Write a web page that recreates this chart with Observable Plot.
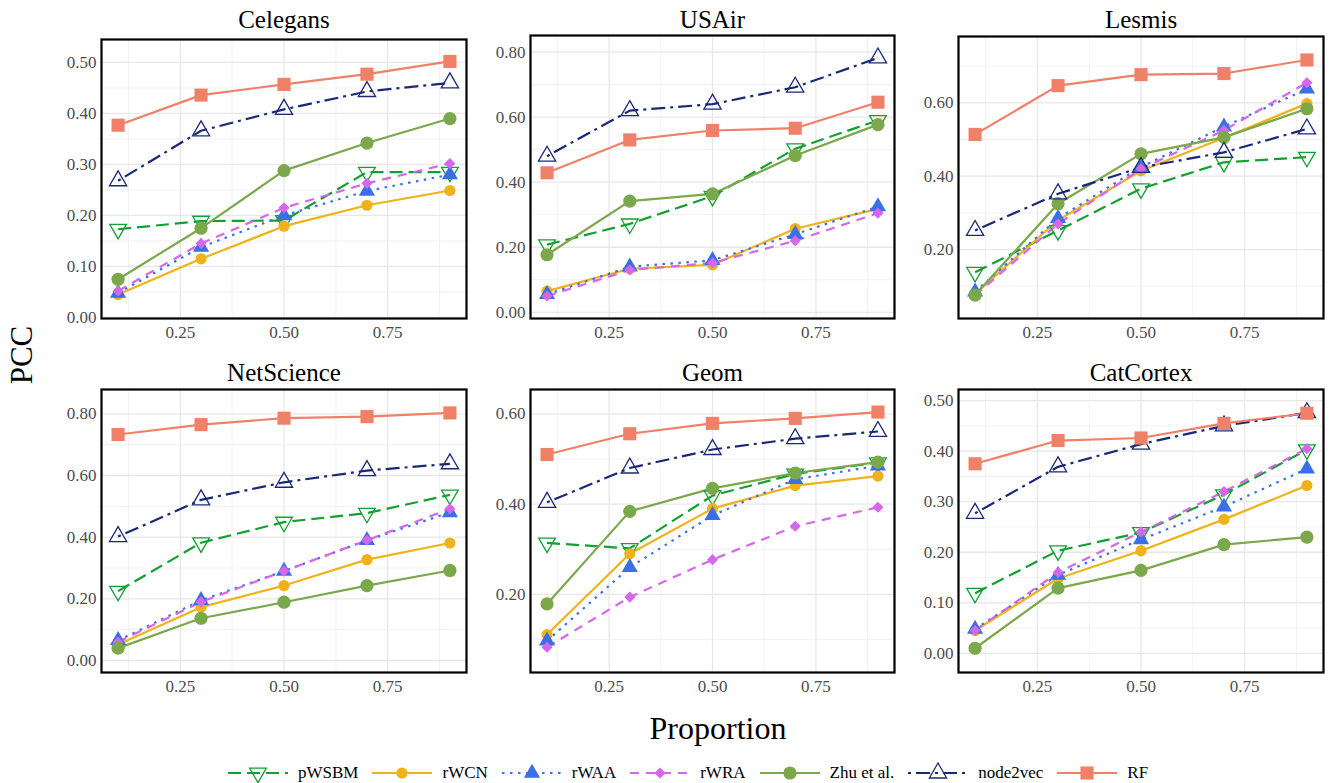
<!DOCTYPE html>
<html>
<head>
<meta charset="utf-8">
<script src="https://cdn.jsdelivr.net/npm/d3@7"></script>
<script src="https://cdn.jsdelivr.net/npm/@observablehq/plot@0.6"></script>
<style>
  body { margin: 0; background: white; }
  #root { position: relative; width: 1331px; height: 783px; background: white; overflow: hidden; font-family: "Liberation Serif", "Times New Roman", serif; }
  #root svg, #root svg text, #root svg g { font-family: "Liberation Serif", "Times New Roman", serif !important; }
  .panel { position: absolute; }
  #ylab { position: absolute; left: 22px; top: 355px; transform: translate(-50%, -50%) rotate(-90deg); font-size: 31px; color: black; white-space: nowrap; }
  #xlab { position: absolute; left: 718px; top: 728px; transform: translate(-50%, -50%); font-size: 32px; color: black; white-space: nowrap; }
  #legend { position: absolute; left: 228px; top: 761px; height: 24px; display: flex; align-items: center; font-size: 17px; color: black; white-space: nowrap; }
  #legend .lab { margin-left: 10px; margin-right: 14px; }
  #legend svg { display: block; }
</style>
</head>
<body>
<div id="root">
  <div id="ylab">PCC</div>
  <div id="xlab">Proportion</div>
  <div id="legend"></div>
</div>
<script>
// ---------------- data ----------------
const proportion = [0.1, 0.3, 0.5, 0.7, 0.9];
const methods = ["pWSBM", "rWCN", "rWAA", "rWRA", "Zhu et al.", "node2vec", "RF"];
const datasets = ["Celegans", "USAir", "Lesmis", "NetScience", "Geom", "CatCortex"];

const celegans = {
  "pWSBM":      [0.173, 0.189, 0.190, 0.285, 0.285],
  "rWCN":       [0.045, 0.115, 0.179, 0.220, 0.249],
  "rWAA":       [0.048, 0.138, 0.200, 0.248, 0.280],
  "rWRA":       [0.052, 0.145, 0.215, 0.263, 0.302],
  "Zhu et al.": [0.075, 0.175, 0.288, 0.342, 0.390],
  "node2vec":   [0.268, 0.366, 0.408, 0.443, 0.460],
  "RF":         [0.377, 0.436, 0.457, 0.477, 0.502]
};
const usair = {
  "pWSBM":      [0.208, 0.272, 0.357, 0.503, 0.590],
  "rWCN":       [0.065, 0.134, 0.146, 0.257, 0.318],
  "rWAA":       [0.055, 0.140, 0.160, 0.240, 0.325],
  "rWRA":       [0.050, 0.130, 0.152, 0.220, 0.305],
  "Zhu et al.": [0.177, 0.342, 0.364, 0.482, 0.577],
  "node2vec":   [0.480, 0.620, 0.640, 0.692, 0.782],
  "RF":         [0.429, 0.530, 0.559, 0.566, 0.646]
};
const lesmis = {
  "pWSBM":      [0.138, 0.252, 0.366, 0.438, 0.452],
  "rWCN":       [0.080, 0.280, 0.415, 0.505, 0.598],
  "rWAA":       [0.085, 0.285, 0.425, 0.535, 0.638],
  "rWRA":       [0.075, 0.270, 0.420, 0.525, 0.655],
  "Zhu et al.": [0.076, 0.325, 0.461, 0.506, 0.584],
  "node2vec":   [0.252, 0.352, 0.424, 0.465, 0.529],
  "RF":         [0.514, 0.647, 0.677, 0.680, 0.717]
};
const netscience = {
  "pWSBM":      [0.225, 0.382, 0.449, 0.478, 0.537],
  "rWCN":       [0.052, 0.173, 0.243, 0.327, 0.381],
  "rWAA":       [0.065, 0.195, 0.290, 0.390, 0.480],
  "rWRA":       [0.060, 0.190, 0.290, 0.390, 0.492],
  "Zhu et al.": [0.040, 0.137, 0.189, 0.243, 0.292],
  "node2vec":   [0.402, 0.521, 0.578, 0.616, 0.638],
  "RF":         [0.733, 0.765, 0.786, 0.791, 0.803]
};
const geom = {
  "pWSBM":      [0.314, 0.302, 0.419, 0.467, 0.492],
  "rWCN":       [0.111, 0.290, 0.390, 0.441, 0.462],
  "rWAA":       [0.097, 0.260, 0.375, 0.455, 0.485],
  "rWRA":       [0.083, 0.194, 0.277, 0.351, 0.393],
  "Zhu et al.": [0.179, 0.384, 0.435, 0.469, 0.493],
  "node2vec":   [0.404, 0.480, 0.521, 0.545, 0.561],
  "RF":         [0.510, 0.556, 0.579, 0.590, 0.604]
};
const catcortex = {
  "pWSBM":      [0.119, 0.203, 0.239, 0.314, 0.403],
  "rWCN":       [0.045, 0.148, 0.203, 0.265, 0.332],
  "rWAA":       [0.048, 0.155, 0.225, 0.290, 0.365],
  "rWRA":       [0.045, 0.160, 0.240, 0.320, 0.405],
  "Zhu et al.": [0.010, 0.129, 0.164, 0.215, 0.230],
  "node2vec":   [0.277, 0.369, 0.414, 0.450, 0.476],
  "RF":         [0.375, 0.421, 0.426, 0.455, 0.475]
};

const xTicks = [0.25, 0.50, 0.75];
const xMinor = [0.125, 0.375, 0.625, 0.875];
const yTicksCelegans = [0.0, 0.1, 0.2, 0.3, 0.4, 0.5];
const yTicksUSAir = [0.0, 0.2, 0.4, 0.6, 0.8];
const yTicksLesmis = [0.2, 0.4, 0.6];
const yTicksNetScience = [0.0, 0.2, 0.4, 0.6, 0.8];
const yTicksGeom = [0.2, 0.4, 0.6];
const yTicksCatCortex = [0.0, 0.1, 0.2, 0.3, 0.4, 0.5];

// ---------------- styles ----------------
const downTriangle = {
  draw(context, size) {
    const s3 = Math.sqrt(3);
    const y = Math.sqrt(size / (s3 * 3));
    context.moveTo(0, y * 2);
    context.lineTo(-s3 * y, -y);
    context.lineTo(s3 * y, -y);
    context.closePath();
  }
};
const style = {
  "pWSBM":      {color: "#12a032", dash: "13,6",        symbol: downTriangle,   r: 6.2, hollow: true},
  "rWCN":       {color: "#f0b21a", dash: null,          symbol: "circle",       r: 5.6},
  "rWAA":       {color: "#3a6fe8", dash: "2.5,5.5",     symbol: "triangle",     r: 6.0},
  "rWRA":       {color: "#d666ea", dash: "9,7",         symbol: "diamond2",     r: 5.0},
  "Zhu et al.": {color: "#7ba84a", dash: null,          symbol: "circle",       r: 6.6},
  "node2vec":   {color: "#1a2878", dash: "3,5,14,5",    symbol: "triangle",     r: 6.4, hollow: true},
  "RF":         {color: "#f08068", dash: null,          symbol: "square",       r: 7.4}
};

// ---------------- layout ----------------
const ml = 70, mr = 8, mt = 45, mb = 35;
const panels = [
  {title: "Celegans",   data: celegans,   yDomain: [-0.002, 0.545], yTicks: yTicksCelegans,   box: {l: 101, t: 39, r: 466, b: 318}, titleBase: 27.3},
  {title: "USAir",      data: usair,      yDomain: [-0.019, 0.851], yTicks: yTicksUSAir,      box: {l: 530, t: 35, r: 894, b: 318}, titleBase: 27.3},
  {title: "Lesmis",     data: lesmis,     yDomain: [0.012, 0.781],  yTicks: yTicksLesmis,     box: {l: 958, t: 36, r: 1323, b: 318}, titleBase: 27.3},
  {title: "NetScience", data: netscience, yDomain: [-0.039, 0.879], yTicks: yTicksNetScience, box: {l: 101, t: 389, r: 466, b: 672}, titleBase: 380.7},
  {title: "Geom",       data: geom,       yDomain: [0.027, 0.654],  yTicks: yTicksGeom,       box: {l: 530, t: 389, r: 894, b: 672}, titleBase: 380.7},
  {title: "CatCortex",  data: catcortex,  yDomain: [-0.038, 0.522], yTicks: yTicksCatCortex,  box: {l: 958, t: 389, r: 1323, b: 672}, titleBase: 380.7}
];

function minorTicks(major) {
  const step = major[1] - major[0];
  const out = [];
  for (let v = major[0] - step / 2; v < major[major.length - 1] + step; v += step) out.push(+v.toFixed(4));
  return out;
}

const root = document.getElementById("root");

panels.forEach(P => {
  const rows = [];
  methods.forEach(m => P.data[m].forEach((v, i) => rows.push({method: m, p: proportion[i], v})));
  const lo = Math.min(...P.yDomain), hi = Math.max(...P.yDomain);
  const yMinor = minorTicks(P.yTicks).filter(v => v > lo && v < hi);
  const marks = [
    Plot.ruleX(xMinor, {stroke: "#ececec", strokeWidth: 0.7}),
    Plot.ruleY(yMinor, {stroke: "#ececec", strokeWidth: 0.7}),
    Plot.ruleX(xTicks, {stroke: "#e8e8e8", strokeWidth: 1.3}),
    Plot.ruleY(P.yTicks, {stroke: "#e8e8e8", strokeWidth: 1.3})
  ];
  methods.forEach(m => {
    const s = style[m];
    marks.push(Plot.line(rows.filter(d => d.method === m), {
      x: "p", y: "v", stroke: s.color, strokeWidth: 2.2,
      strokeDasharray: s.dash || undefined, strokeLinecap: "butt", strokeLinejoin: "round"
    }));
  });
  methods.forEach(m => {
    const s = style[m];
    marks.push(Plot.dot(rows.filter(d => d.method === m), {
      x: "p", y: "v", symbol: s.symbol, r: s.r,
      fill: s.hollow ? "none" : s.color,
      stroke: s.color, strokeWidth: s.hollow ? 1.3 : 0
    }));
  });
  marks.push(Plot.frame({stroke: "black", strokeWidth: 2.2}));
  marks.push(Plot.text([P.title], {
    frameAnchor: "top", lineAnchor: "bottom", dy: -(P.box.t - P.titleBase),
    fontSize: 25, fill: "black", fontWeight: "normal"
  }));

  const fw = P.box.r - P.box.l, fh = P.box.b - P.box.t;
  const chart = Plot.plot({
    width: fw + ml + mr,
    height: fh + mt + mb,
    marginLeft: ml, marginRight: mr, marginTop: mt, marginBottom: mb,
    x: {domain: [0.06, 0.94], ticks: xTicks, tickFormat: d3.format(".2f"), tickSize: 0, tickPadding: 7, label: null},
    y: {domain: P.yDomain, ticks: P.yTicks, tickFormat: d3.format(".2f"), tickSize: 0, tickPadding: 5, label: null},
    style: {fontSize: "17px", color: "#4d4d4d", background: "transparent", overflow: "visible"},
    marks
  });
  chart.setAttribute("font-family", "Liberation Serif, serif");
  chart.classList.add("panel");
  chart.style.left = (P.box.l - ml) + "px";
  chart.style.top = (P.box.t - mt) + "px";
  root.appendChild(chart);
});

// ---------------- legend ----------------
const legend = d3.select("#legend");
methods.forEach(m => {
  const s = style[m];
  const svg = legend.append("svg").attr("width", 60).attr("height", 24);
  svg.append("line").attr("x1", 0).attr("x2", 60).attr("y1", 12).attr("y2", 12)
    .attr("stroke", s.color).attr("stroke-width", 2.2)
    .attr("stroke-dasharray", s.dash || null);
  const type = s.symbol === downTriangle ? downTriangle
    : s.symbol === "circle" ? d3.symbolCircle
    : s.symbol === "triangle" ? d3.symbolTriangle
    : s.symbol === "diamond2" ? d3.symbolDiamond2
    : d3.symbolSquare;
  svg.append("path").attr("transform", "translate(30,12)")
    .attr("d", d3.symbol(type, Math.PI * s.r * s.r)())
    .attr("fill", s.hollow ? "none" : s.color)
    .attr("stroke", s.color).attr("stroke-width", s.hollow ? 1.3 : 0);
  legend.append("span").attr("class", "lab").text(m);
});
</script>
</body>
</html>
